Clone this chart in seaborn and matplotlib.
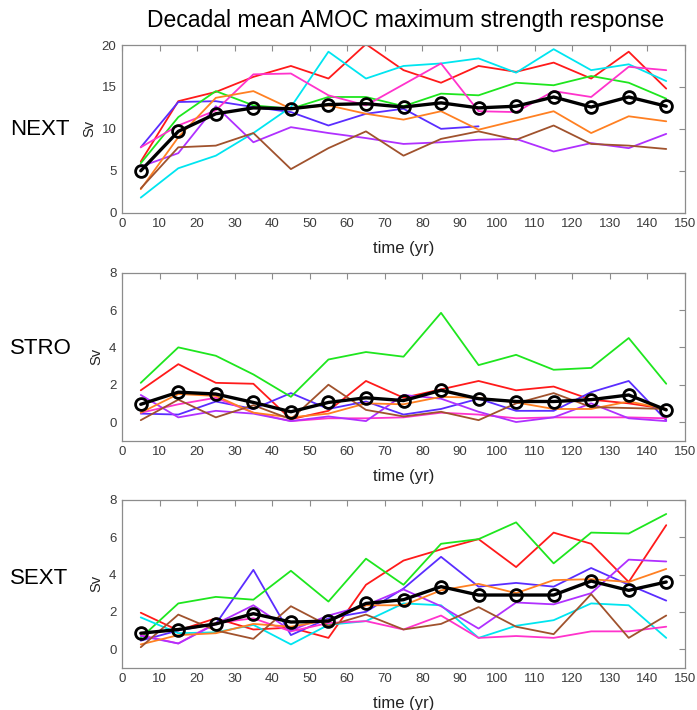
import numpy as np
import pandas as pd
import matplotlib
matplotlib.use("Agg")
import matplotlib.pyplot as plt
import seaborn as sns

# decadal time axis (yr)
time = [5, 15, 25, 35, 45, 55, 65, 75, 85, 95, 105, 115, 125, 135, 145]

members = ["red", "blue", "green", "cyan", "pink", "purple", "orange", "brown"]
member_colors = {
    "red": "#ff1a1a",
    "blue": "#5a2dff",
    "green": "#1ee61e",
    "cyan": "#00e5f0",
    "pink": "#ff33cc",
    "purple": "#b030ff",
    "orange": "#ff8022",
    "brown": "#a0522d",
}

nan = np.nan

# NEXT experiment
next_red = [6.1, 13.3, 14.4, 16.2, 17.5, 16.0, 20.1, 17.0, 15.5, 17.5, 16.8, 17.9, 16.0, 19.2, 14.8]
next_blue = [7.8, 13.2, 13.3, 12.6, 12.0, 10.4, 11.8, 12.4, 10.0, 10.3, nan, nan, nan, nan, nan]
next_green = [5.9, 11.4, 14.5, 12.8, 12.4, 13.8, 13.8, 12.7, 14.2, 14.0, 15.5, 15.2, 16.3, 15.5, 13.6]
next_cyan = [1.8, 5.3, 6.8, 9.5, 12.6, 19.2, 16.0, 17.5, 17.8, 18.4, 16.7, 19.5, 17.0, 17.7, 15.7]
next_pink = [7.8, 10.4, 12.2, 16.5, 16.6, 14.0, 12.8, 15.3, 17.8, 12.1, 12.0, 14.5, 13.8, 17.4, 17.0]
next_purple = [5.5, 7.1, 12.7, 8.4, 10.2, 9.5, 8.9, 8.2, 8.4, 8.7, 8.8, 7.3, 8.3, 7.7, 9.4]
next_orange = [2.8, 9.0, 13.7, 14.5, 12.4, 12.8, 11.8, 11.1, 12.1, 9.9, 11.0, 12.1, 9.5, 11.5, 10.9]
next_brown = [2.9, 7.8, 8.0, 9.5, 5.2, 7.7, 9.7, 6.8, 8.8, 9.7, 8.7, 10.4, 8.2, 8.0, 7.6]
next_mean = [5.0, 9.7, 11.8, 12.5, 12.4, 12.9, 13.0, 12.6, 13.1, 12.5, 12.7, 13.8, 12.6, 13.8, 12.7]

# STRO experiment (no cyan member)
stro_red = [1.7, 3.1, 2.1, 2.05, 0.15, 0.6, 2.2, 1.3, 1.75, 2.2, 1.7, 1.9, 1.2, 1.0, 0.7]
stro_blue = [0.45, 0.4, 1.1, 0.7, 1.55, 0.7, 1.1, 0.4, 0.7, 1.25, 0.6, 0.6, 1.6, 2.2, 0.1]
stro_green = [2.1, 4.0, 3.55, 2.55, 1.35, 3.35, 3.75, 3.5, 5.85, 3.05, 3.6, 2.8, 2.9, 4.5, 2.05]
stro_cyan = [nan] * 15
stro_pink = [0.5, 0.95, 1.3, 0.5, 0.05, 0.2, 0.2, 0.25, 0.5, 0.4, 0.2, 0.25, 0.25, 0.25, 0.2]
stro_purple = [1.45, 0.25, 0.6, 0.45, 0.05, 0.3, 0.05, 1.45, 1.25, 0.55, 0.0, 0.25, 1.0, 0.2, 0.05]
stro_orange = [0.5, 1.5, 1.4, 0.5, 0.25, 0.45, 1.0, 0.95, 1.35, 1.3, 1.05, 0.7, 0.7, 1.1, 0.7]
stro_brown = [0.1, 1.2, 0.25, 0.9, 0.15, 2.0, 0.65, 0.3, 0.55, 0.1, 1.0, 1.55, 0.8, 0.75, 0.7]
stro_mean = [0.95, 1.6, 1.5, 1.05, 0.55, 1.05, 1.3, 1.15, 1.7, 1.25, 1.1, 1.1, 1.2, 1.45, 0.65]

# SEXT experiment
sext_red = [1.95, 1.0, 1.65, 1.05, 1.15, 0.6, 3.45, 4.75, 5.35, 5.9, 4.4, 6.25, 5.65, 3.6, 6.65]
sext_blue = [0.45, 1.0, 1.35, 4.25, 0.75, 1.65, 2.0, 3.25, 4.95, 3.35, 3.55, 3.35, 4.35, 3.45, 2.6]
sext_green = [0.6, 2.45, 2.8, 2.65, 4.2, 2.55, 4.85, 3.45, 5.65, 5.9, 6.8, 4.6, 6.25, 6.2, 7.25]
sext_cyan = [1.7, 0.85, 0.9, 1.3, 0.25, 1.3, 1.5, 2.45, 2.35, 0.6, 1.25, 1.55, 2.45, 2.35, 0.6]
sext_pink = [0.75, 0.3, 1.4, 1.65, 0.95, 1.4, 1.5, 1.05, 1.8, 0.6, 0.7, 0.6, 0.95, 0.95, 1.2]
sext_purple = [0.7, 0.3, 1.35, 2.35, 1.0, 1.8, 2.35, 3.2, 2.3, 1.1, 2.5, 2.4, 3.0, 4.8, 4.7]
sext_orange = [0.25, 0.75, 0.85, 1.35, 1.2, 1.55, 2.35, 2.35, 3.15, 3.5, 3.0, 3.7, 3.75, 3.6, 4.3]
sext_brown = [0.1, 1.85, 1.0, 0.55, 2.3, 1.25, 1.85, 1.05, 1.35, 2.25, 1.2, 0.8, 2.95, 0.6, 1.8]
sext_mean = [0.85, 1.05, 1.35, 1.9, 1.45, 1.5, 2.45, 2.65, 3.35, 2.9, 2.9, 2.9, 3.65, 3.15, 3.6]

experiments = ["NEXT", "STRO", "SEXT"]
ylims = [(0, 20), (-1, 8), (-1, 8)]
yticks = [[0, 5, 10, 15, 20], [0, 2, 4, 6, 8], [0, 2, 4, 6, 8]]
label_y = [129.5, 349, 578]

panel_members = [
    [next_red, next_blue, next_green, next_cyan, next_pink, next_purple, next_orange, next_brown],
    [stro_red, stro_blue, stro_green, stro_cyan, stro_pink, stro_purple, stro_orange, stro_brown],
    [sext_red, sext_blue, sext_green, sext_cyan, sext_pink, sext_purple, sext_orange, sext_brown],
]
panel_means = [next_mean, stro_mean, sext_mean]

sns.set_theme(style="white")
plt.rcParams["font.family"] = ["Liberation Sans", "DejaVu Sans"]

W, H = 697, 710
fig = plt.figure(figsize=(W / 100, H / 100), dpi=100)

# axes boxes in pixels (left, top, right, bottom)
boxes = [(122, 45, 685, 212.7), (122, 272.7, 685, 440.7), (122, 500, 685, 667.7)]

frame_col = "#8c8c8c"
text_col = "#3c3c3c"

for i, exp in enumerate(experiments):
    l, t, r, b = boxes[i]
    ax = fig.add_axes([l / W, 1 - b / H, (r - l) / W, (b - t) / H])

    long = pd.DataFrame({
        "time": np.tile(time, len(members)),
        "value": np.concatenate([np.asarray(v, dtype=float) for v in panel_members[i]]),
        "member": np.repeat(members, len(time)),
    }).dropna()
    sns.lineplot(data=long, x="time", y="value", hue="member", palette=member_colors,
                 hue_order=[m for m in members if m in set(long["member"])],
                 estimator=None, lw=1.3, legend=False, ax=ax)

    mean_df = pd.DataFrame({"time": time, "value": panel_means[i]})
    sns.lineplot(data=mean_df, x="time", y="value", color="black", lw=2.4,
                 marker="o", markersize=8.5, markerfacecolor="none",
                 markeredgecolor="black", markeredgewidth=2.0, ax=ax)

    ax.set_xlim(0, 150)
    ax.set_ylim(*ylims[i])
    ax.set_xticks(range(0, 151, 10))
    ax.set_yticks(yticks[i])
    ax.tick_params(direction="in", length=4, width=0.8, color=frame_col,
                   top=True, right=True, labelsize=9.5, labelcolor=text_col, pad=4)
    for s in ax.spines.values():
        s.set_color(frame_col)
        s.set_linewidth(0.9)
    ax.set_xlabel("time (yr)", fontsize=12, color="#222222", labelpad=8)
    ax.set_ylabel("Sv", fontsize=10.5, color="#222222", labelpad=4)
    ax.grid(False)

    fig.text(10 / W, 1 - label_y[i] / H, exp, fontsize=16, ha="left", va="center",
             color="black")

fig.text(405.5 / W, 1 - 20.5 / H, "Decadal mean AMOC maximum strength response",
         fontsize=16.5, ha="center", va="center", color="black")

fig.savefig("out.png", dpi=100)
